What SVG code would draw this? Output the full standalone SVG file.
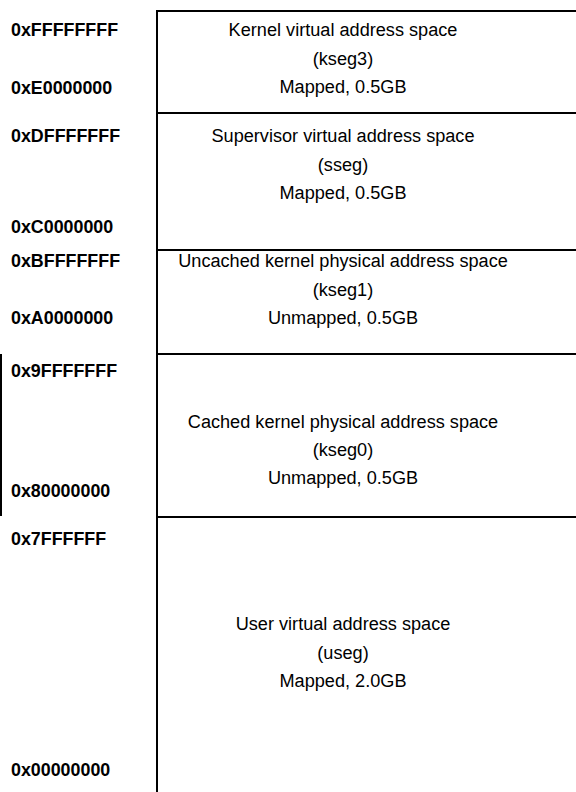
<svg xmlns="http://www.w3.org/2000/svg" width="576" height="792" viewBox="0 0 576 792">
<style>
.addr{font-family:"Liberation Sans",Arial,sans-serif;font-weight:bold;font-size:19px;fill:#000}
.seg{font-family:"Liberation Sans",Arial,sans-serif;font-size:19px;fill:#000;text-anchor:middle}
.ln{stroke:#000;stroke-width:2;fill:none}
</style>
<rect width="576" height="792" fill="#fff"/>
<g id="lines">
<line class="ln" x1="157" y1="10" x2="157" y2="792"/>
<line class="ln" x1="156" y1="11" x2="576" y2="11"/>
<line class="ln" x1="156" y1="113" x2="576" y2="113"/>
<line class="ln" x1="156" y1="250" x2="576" y2="250"/>
<line class="ln" x1="156" y1="354" x2="576" y2="354"/>
<line class="ln" x1="156" y1="517" x2="576" y2="517"/>
<line class="ln" x1="1" y1="354" x2="1" y2="516"/>
</g>
<g id="addresses" transform="translate(11,0) scale(0.94,1)">
<text class="addr" x="0" y="36">0xFFFFFFFF</text>
<text class="addr" x="0" y="94">0xE0000000</text>
<text class="addr" x="0" y="142">0xDFFFFFFF</text>
<text class="addr" x="0" y="233">0xC0000000</text>
<text class="addr" x="0" y="267">0xBFFFFFFF</text>
<text class="addr" x="0" y="324">0xA0000000</text>
<text class="addr" x="0" y="377">0x9FFFFFFF</text>
<text class="addr" x="0" y="497">0x80000000</text>
<text class="addr" x="0" y="545">0x7FFFFFF</text>
<text class="addr" x="0" y="776">0x00000000</text>
</g>
<g id="kseg3" transform="translate(343,0) scale(0.955,1)">
<text class="seg" x="0" y="36">Kernel virtual address space</text>
<text class="seg" x="0" y="65">(kseg3)</text>
<text class="seg" x="0" y="93">Mapped, 0.5GB</text>
</g>
<g id="sseg" transform="translate(343,0) scale(0.955,1)">
<text class="seg" x="0" y="142">Supervisor virtual address space</text>
<text class="seg" x="0" y="171">(sseg)</text>
<text class="seg" x="0" y="199">Mapped, 0.5GB</text>
</g>
<g id="kseg1" transform="translate(343,0) scale(0.955,1)">
<text class="seg" x="0" y="267">Uncached kernel physical address space</text>
<text class="seg" x="0" y="296">(kseg1)</text>
<text class="seg" x="0" y="324">Unmapped, 0.5GB</text>
</g>
<g id="kseg0" transform="translate(343,0) scale(0.955,1)">
<text class="seg" x="0" y="428">Cached kernel physical address space</text>
<text class="seg" x="0" y="456">(kseg0)</text>
<text class="seg" x="0" y="484">Unmapped, 0.5GB</text>
</g>
<g id="useg" transform="translate(343,0) scale(0.955,1)">
<text class="seg" x="0" y="630">User virtual address space</text>
<text class="seg" x="0" y="659">(useg)</text>
<text class="seg" x="0" y="687">Mapped, 2.0GB</text>
</g>
</svg>
